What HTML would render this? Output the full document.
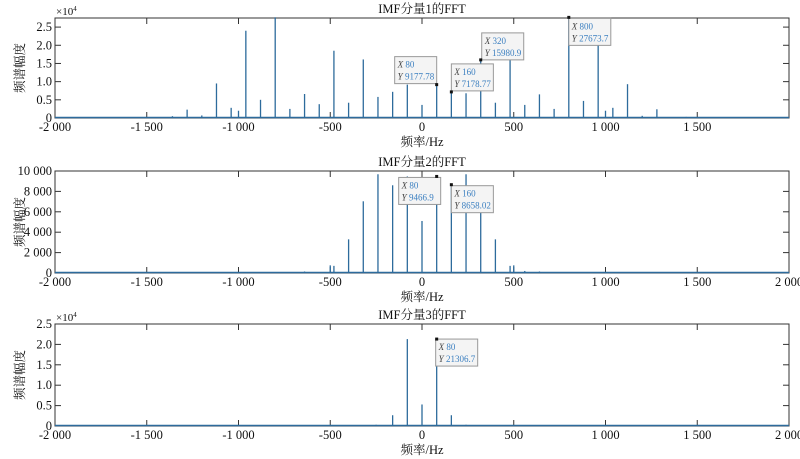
<!DOCTYPE html>
<html><head><meta charset="utf-8">
<style>
html,body{margin:0;padding:0;background:#fff;}
svg{display:block;font-family:"Liberation Serif","Noto Serif CJK SC",serif;}
</style></head>
<body>
<svg id="chart" width="800" height="459" viewBox="0 0 800 459" xmlns="http://www.w3.org/2000/svg"></svg>
<script>
// Panel 1 data (IMF 1)
const freq1 = [-1360,-1280,-1200,-1120,-1040,-1000,-960,-880,-800,-720,-640,-560,-480,-400,-320,-240,-160,-80,0,80,160,240,320,400,480,560,640,720,800,880,960,1000,1040,1120,1200,1280,1440];
const amp1 = [500,2300,700,9500,2800,2000,24000,5000,27700,2500,6600,3800,18500,4200,16100,5800,7200,9178,3600,9178,7179,6800,15981,4200,18500,3600,6500,2500,27674,4700,24000,2000,2800,9300,600,2400,300];
// Panel 2 data (IMF 2)
const freq2 = [-640,-500,-480,-400,-320,-240,-160,-80,0,80,160,240,320,400,480,500,560,640];
const amp2 = [150,750,700,3300,7030,9680,8600,9467,5100,9467,8658,9680,5900,3300,700,750,200,150];
// Panel 3 data (IMF 3)
const freq3 = [-250,-160,-80,0,80,160,240];
const amp3 = [300,2640,21300,5280,21307,2640,300];

const xTicks = [-2000,-1500,-1000,-500,0,500,1000,1500,2000];
const xTickLabels = ["-2 000","-1 500","-1 000","-500","0","500","1 000","1 500","2 000"];
const yTicks1 = [0,5000,10000,15000,20000,25000];
const yTickLabels1 = ["0","0.5","1.0","1.5","2.0","2.5"];
const yTicks2 = [0,2000,4000,6000,8000,10000];
const yTickLabels2 = ["0","2 000","4 000","6 000","8 000","10 000"];
const yTicks3 = [0,5000,10000,15000,20000,25000];
const yTickLabels3 = ["0","0.5","1.0","1.5","2.0","2.5"];

const svg = document.getElementById('chart');
const NS = 'http://www.w3.org/2000/svg';
function mk(tag, attrs, parent){const e=document.createElementNS(NS,tag);for(const k in attrs)e.setAttribute(k,attrs[k]);(parent||svg).appendChild(e);return e;}
const L=55, R=789;
function xs(f){return L+(f+2000)/4000*(R-L);}
const COL='#2d6b9c';

const panels=[
 {top:18,bot:118,ymax:27500,freq:freq1,amp:amp1,yt:yTicks1,yl:yTickLabels1,title:'IMF分量1的FFT',exp:true,showLast:false,tips:[[80,9177.78,'9177.78',-42,-28],[160,7178.77,'7178.77',0,-28],[320,15980.9,'15980.9',1,-27],[800,27673.7,'27673.7',0,1]]},
 {top:171,bot:273,ymax:10000,freq:freq2,amp:amp2,yt:yTicks2,yl:yTickLabels2,title:'IMF分量2的FFT',exp:false,showLast:true,tips:[[80,9466.9,'9466.9',-38,1],[160,8658.02,'8658.02',0,1]]},
 {top:324,bot:426,ymax:25000,freq:freq3,amp:amp3,yt:yTicks3,yl:yTickLabels3,title:'IMF分量3的FFT',exp:true,showLast:true,tips:[[80,21306.7,'21306.7',-1,0]]}
];

panels.forEach((p,pi)=>{
  const g=mk('g',{});
  
  
  const ys=v=>p.bot-v/p.ymax*(p.bot-p.top);
  const box=mk('rect',{x:L,y:p.top,width:R-L,height:p.bot-p.top,fill:'#fff',stroke:'#333','stroke-width':1},g);
  
  
  xTicks.forEach((t,i)=>{
    if(t===2000 && !p.showLast) return;
    const x=xs(t);
    mk('line',{x1:x,y1:p.bot,x2:x,y2:p.bot-6,stroke:'#333'},g);
    mk('line',{x1:x,y1:p.top,x2:x,y2:p.top+6,stroke:'#333'},g);
    const tx=mk('text',{x:x,y:p.bot+13,'font-size':12.5,'text-anchor':'middle',fill:'#111'},g);
    tx.textContent=xTickLabels[i];
    
    
  });
  p.yt.forEach((t,i)=>{
    const y=ys(t);
    mk('line',{x1:L,y1:y,x2:L+6,y2:y,stroke:'#333'},g);
    mk('line',{x1:R,y1:y,x2:R-6,y2:y,stroke:'#333'},g);
    const tx=mk('text',{x:L-3,y:y+4,'font-size':12.5,'text-anchor':'end',fill:'#111'},g);
    tx.textContent=p.yl[i];
    
    
  });
  if(p.exp){
    const ex=mk('text',{x:L+1,y:p.top-3,'font-size':11,fill:'#111'},g);
    ex.textContent='×10';
    const sup=mk('tspan',{'font-size':7,dy:-4},ex);sup.textContent='4';
    
    
  }
  mk('line',{x1:L,y1:p.bot-0.5,x2:R,y2:p.bot-0.5,stroke:COL,'stroke-width':1.5},g);
  p.freq.forEach((f,i)=>{
    const x=xs(f);
    const ln=mk('line',{x1:x,y1:p.bot,x2:x,y2:ys(p.amp[i]),stroke:COL,'stroke-width':1.3},g);
    
    
  });
  const ti=mk('text',{x:422,y:p.top-5,'font-size':12.5,'text-anchor':'middle',fill:'#111'},g);
  ti.textContent=p.title;
  
  
  const xl=mk('text',{x:422,y:p.bot+28,'font-size':12.5,'text-anchor':'middle',fill:'#111'},g);
  xl.textContent='频率/Hz';
  
  
  const cy=(p.top+p.bot)/2;
  const yl=mk('text',{x:24,y:cy,'font-size':12.5,'text-anchor':'middle',fill:'#111',transform:'rotate(-90 24 '+cy+')'},g);
  yl.textContent='频谱幅度';
  
  
  p.tips.forEach(t=>{
    const x=xs(t[0]), y=ys(t[1]);
    const bx=x+t[3], by=y+t[4];
    const tg=mk('g',{},g);
    
    
    mk('rect',{x:bx,y:by,width:42,height:27,fill:'#f4f4f4',stroke:'#999','stroke-width':1},tg);
    const t1=mk('text',{x:bx+3,y:by+11,'font-size':9,fill:'#3b7fc0'},tg);
    const i1=mk('tspan',{'font-style':'italic',fill:'#444'},t1);i1.textContent='X ';
    const v1=mk('tspan',{},t1);v1.textContent=String(t[0]);
    const t2=mk('text',{x:bx+3,y:by+23,'font-size':9,fill:'#3b7fc0'},tg);
    const i2=mk('tspan',{'font-style':'italic',fill:'#444'},t2);i2.textContent='Y ';
    const v2=mk('tspan',{},t2);v2.textContent=t[2];
    mk('rect',{x:x-1.5,y:y-1.5,width:3,height:3,fill:'#111'},tg);
  });
});
</script>
</body></html>
